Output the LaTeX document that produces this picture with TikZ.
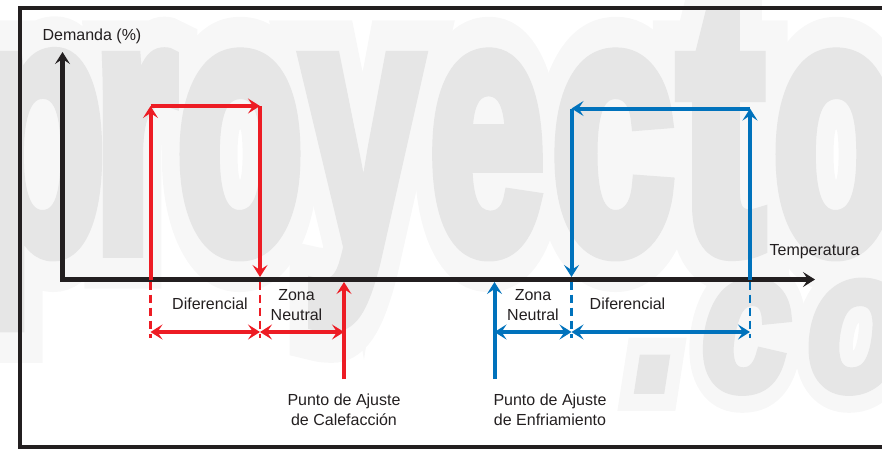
\documentclass[tikz,border=0pt]{standalone}
\usepackage{fontspec}
\setmainfont{Liberation Sans}
\newfontfamily\wmcore{Liberation Sans}[BoldFeatures={FakeBold=5}, BoldItalicFeatures={FakeBold=5}]
\newfontfamily\wmhalo{Liberation Sans}[BoldFeatures={FakeBold=22}, BoldItalicFeatures={FakeBold=22}]
\usetikzlibrary{arrows.meta}
\definecolor{hred}{HTML}{ED1C24}
\definecolor{cblue}{HTML}{0072BC}
\definecolor{ink}{HTML}{231F20}
\definecolor{wm}{HTML}{E6E6E6}
\definecolor{wmh}{HTML}{F7F7F7}
\begin{document}
\begin{tikzpicture}[x=1pt,y=-1pt,
  every node/.style={inner sep=0pt, outer sep=0pt},
  lbl/.style={font=\fontsize{16}{20.5}\selectfont, text=ink, align=center},
  wmbig/.style={anchor=base, text=wm, font=\fontsize{358}{358}\selectfont\wmcore\bfseries},
  wmbigh/.style={anchor=base, text=wmh, font=\fontsize{358}{358}\selectfont\wmhalo\bfseries},
  wmsmall/.style={anchor=base, text=wm, font=\fontsize{198}{198}\selectfont\wmcore\bfseries\itshape},
  wmsmallh/.style={anchor=base, text=wmh, font=\fontsize{198}{198}\selectfont\wmhalo\bfseries\itshape},
  headend/.style={-{Stealth[length=12pt,width=15pt,inset=5pt]}},
  headboth/.style={{Stealth[length=12pt,width=15pt,inset=5pt]}-{Stealth[length=12pt,width=15pt,inset=5pt]}},
  axisln/.style={draw=ink, line width=4.5pt, headboth},
  redln/.style={draw=hred, line width=4pt, headend},
  blueln/.style={draw=cblue, line width=4pt, headend},
  reddim/.style={draw=hred, line width=4pt, headboth},
  bluedim/.style={draw=cblue, line width=4pt, headboth},
  reddash/.style={draw=hred, line width=2.5pt, dash pattern=on 8pt off 5pt},
  bluedash/.style={draw=cblue, line width=2.5pt, dash pattern=on 8pt off 5pt},
  framebox/.style={draw=ink, line width=4pt}]
\path[use as bounding box] (0,0) rectangle (882,448);
\begin{scope}
\clip (0,0) rectangle (882,448);
% watermark halo
\foreach \ch/\cx/\sx [count=\i] in {p/40/0.6, r/135/0.6, o/240/0.58, y/362/0.6, e/487/0.58, c/613/0.62, t/721/0.72, o/836/0.58}{
  \node[wmbigh] (wh\i) at (\cx,249) {\scalebox{\sx}[1]{\ch}};
}
\foreach \ch/\cx/\sx [count=\i] in {./657/0.8, c/746/0.8, o/856/0.8}{
  \node[wmsmallh] (wsh\i) at (\cx,389) {\scalebox{\sx}[1]{\ch}};
}
% watermark letters
\foreach \ch/\cx/\sx [count=\i] in {p/40/0.6, r/135/0.6, o/240/0.58, y/362/0.6, e/487/0.58, c/613/0.62, t/721/0.72, o/836/0.58}{
  \node[wmbig] (wl\i) at (\cx,249) {\scalebox{\sx}[1]{\ch}};
}
\foreach \ch/\cx/\sx [count=\i] in {./657/0.8, c/746/0.8, o/856/0.8}{
  \node[wmsmall] (wsl\i) at (\cx,389) {\scalebox{\sx}[1]{\ch}};
}
\draw[framebox] (20,7.5) rectangle (950,447);
\end{scope}
% axes
\coordinate (O) at (62.5,279.5);
\coordinate (Ytop) at (62.5,52);
\coordinate (Xend) at (815,279.5);
\draw[axisln] (Ytop) -- (O) -- (Xend);
\node[lbl] (ylab) at (92,36) {Demanda (\%)};
\node[lbl] (xlab) at (814.5,252) {Temperatura};
% heating (red)
\coordinate (rA) at (150.5,279.5);
\coordinate (rB) at (150.5,106);
\coordinate (rC) at (260,106);
\coordinate (rD) at (260,277);
\coordinate (rDa) at (260,279.5);
\draw[redln] (rA) -- (rB);
\draw[redln] (rB) -- (rC);
\draw[redln] (rC) -- (rD);
\coordinate (rA2) at (150.5,338);
\coordinate (rD2) at (260,338);
\draw[reddash] ([yshift=-2pt]rA) -- (rA2);
\draw[reddash] ([yshift=-2pt]rDa) -- (rD2);
\coordinate (rM1) at (150.5,332);
\coordinate (rM2) at (260,332);
\coordinate (rM3) at (344,332);
\draw[reddim] (rM1) -- (rM2);
\draw[reddim] (rM2) -- (rM3);
\coordinate (rSb) at (344,379);
\coordinate (rSt) at (344,282);
\draw[redln] (rSb) -- (rSt);
\node[lbl] (rdif) at (210,303.5) {Diferencial};
\node[lbl] (rzn) at (296.5,305) {Zona\\Neutral};
\node[lbl] (rset) at (344,410) {Punto de Ajuste\\de Calefacción};
% cooling (blue)
\coordinate (bA) at (750,279.5);
\coordinate (bB) at (750,108.5);
\coordinate (bC) at (571.5,108.5);
\coordinate (bD) at (571.5,277);
\coordinate (bDa) at (571.5,279.5);
\draw[blueln] (bA) -- (bB);
\draw[blueln] (bB) -- (bC);
\draw[blueln] (bC) -- (bD);
\coordinate (bA2) at (750,338);
\coordinate (bD2) at (571.5,338);
\draw[bluedash] ([yshift=-2pt]bA) -- (bA2);
\draw[bluedash] ([yshift=-2pt]bDa) -- (bD2);
\coordinate (bM1) at (494.5,332);
\coordinate (bM2) at (571.5,332);
\coordinate (bM3) at (750,332);
\draw[bluedim] (bM1) -- (bM2);
\draw[bluedim] (bM2) -- (bM3);
\coordinate (bSb) at (494.5,379);
\coordinate (bSt) at (494.5,282);
\draw[blueln] (bSb) -- (bSt);
\node[lbl] (bzn) at (533,305) {Zona\\Neutral};
\node[lbl] (bdif) at (627.5,303.5) {Diferencial};
\node[lbl] (bset) at (550,410) {Punto de Ajuste\\de Enfriamiento};
\end{tikzpicture}
\end{document}
